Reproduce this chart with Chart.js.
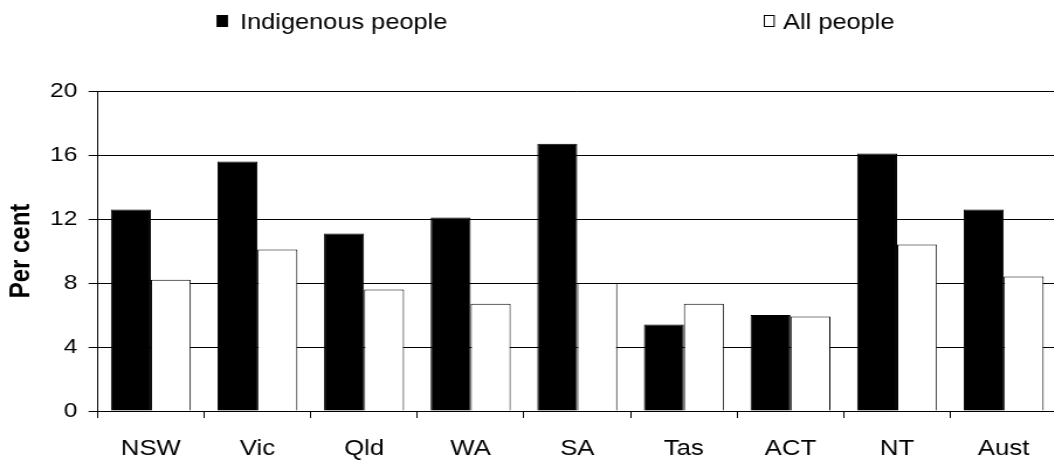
<!DOCTYPE html>
<html>
<head>
<meta charset="utf-8">
<script src="https://cdn.jsdelivr.net/npm/chart.js@4"></script>
<style>
  html, body { margin: 0; padding: 0; background: #fff; overflow: hidden; }
  #wrap { width: 1062px; height: 461px; position: relative; }
  /* drawing surface is widened by CSS for the wide, flat chart shape */
  #c { display: block; width: 1062px !important; height: 461px !important; }
</style>
</head>
<body>
<div id="wrap"><canvas id="c" width="908" height="461" style="width:1062px;height:461px"></canvas></div>
<script>
// States and territories, plus the national figure
const categories = ['NSW', 'Vic', 'Qld', 'WA', 'SA', 'Tas', 'ACT', 'NT', 'Aust'];
// Per cent, by population group
const indigenousValues = [12.6, 15.6, 11.1, 12.1, 16.7, 5.4, 6.0, 16.1, 12.6];
const allPeopleValues  = [8.2, 10.1, 7.6, 6.7, 8.0, 6.7, 5.9, 10.4, 8.4];
const seriesNames = ['Indigenous people', 'All people'];
const yTicks = [0, 4, 8, 12, 16, 20];
const yAxisTitle = 'Per cent';

const FONT = '"Liberation Sans", Arial, sans-serif';

// Two-item legend laid out across the top
const topLegend = {
  id: 'topLegend',
  afterDraw(chart) {
    const ctx = chart.ctx;
    ctx.save();
    ctx.font = '21.7px ' + FONT;
    ctx.textBaseline = 'alphabetic';
    const items = [
      { boxX: 185.3, textX: 205.2, fill: '#000' },
      { boxX: 653.0, textX: 669.5, fill: '#fff' }
    ];
    items.forEach((it, i) => {
      ctx.fillStyle = it.fill;
      ctx.fillRect(it.boxX, 15, 9.4, 12);
      ctx.strokeStyle = '#000';
      ctx.lineWidth = 1;
      ctx.strokeRect(it.boxX + 0.5, 15.5, 8.4, 11);
      ctx.fillStyle = '#000';
      ctx.fillText(seriesNames[i], it.textX, 29);
    });
    ctx.restore();
  }
};

new Chart(document.getElementById('c'), {
  type: 'bar',
  data: {
    labels: categories,
    datasets: [
      {
        label: seriesNames[0],
        data: indigenousValues,
        backgroundColor: '#000',
        borderColor: '#000',
        borderWidth: 1
      },
      {
        label: seriesNames[1],
        data: allPeopleValues,
        backgroundColor: '#fff',
        borderColor: '#000',
        borderWidth: 1
      }
    ]
  },
  options: {
    responsive: false,
    animation: false,
    devicePixelRatio: 1,
    layout: { padding: { top: 91, right: 4.3, bottom: 0, left: 0 } },
    plugins: {
      legend: { display: false },
      tooltip: { enabled: false }
    },
    datasets: {
      bar: { categoryPercentage: 0.75, barPercentage: 1.0 }
    },
    scales: {
      x: {
        grid: {
          offset: true,
          drawOnChartArea: false,
          drawTicks: true,
          tickLength: 7,
          color: '#000'
        },
        border: { display: true, color: '#000', width: 1 },
        ticks: {
          color: '#000',
          font: { family: FONT, size: 22 },
          padding: 18,
          maxRotation: 0
        },
        afterFit(scale) { scale.height = 50; }
      },
      y: {
        min: 0,
        max: 20,
        afterBuildTicks(scale) { scale.ticks = yTicks.map(v => ({ value: v })); },
        grid: {
          color: '#000',
          tickLength: 7.7,
          drawTicks: true
        },
        border: { display: true, color: '#000', width: 1 },
        ticks: {
          color: '#000',
          font: { family: FONT, size: 21 },
          padding: 9.5
        },
        title: {
          display: true,
          text: yAxisTitle,
          color: '#000',
          font: { family: FONT, size: 24, weight: 'bold' },
          padding: { top: 4, bottom: 0 }
        },
        afterFit(scale) { scale.width = 83.4; }
      }
    }
  },
  plugins: [topLegend]
});
</script>
</body>
</html>
